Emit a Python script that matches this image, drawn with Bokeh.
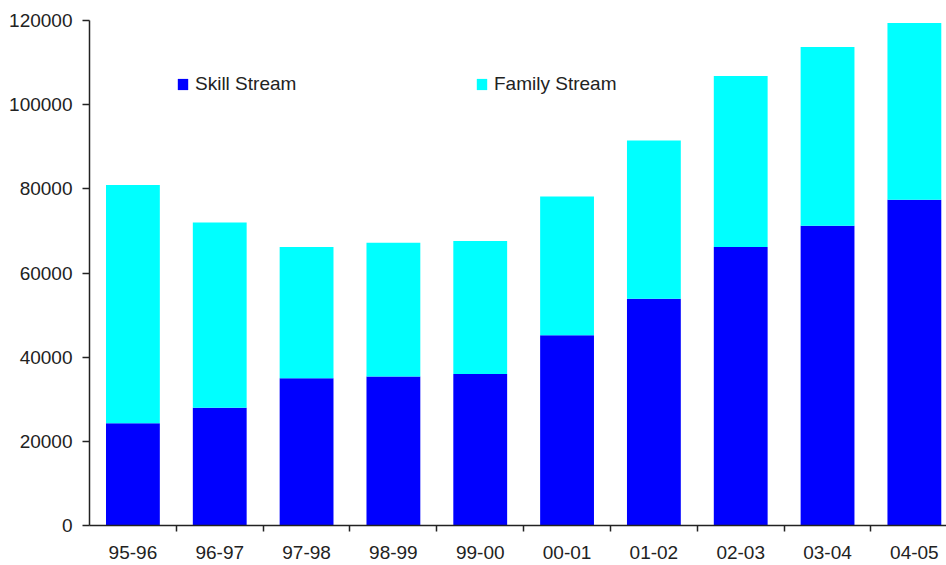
from bokeh.plotting import figure
from bokeh.models import FixedTicker, Legend, LegendItem, ColumnDataSource, Range1d
from bokeh.embed import file_html
from bokeh.resources import INLINE

years = ["95-96", "96-97", "97-98", "98-99", "99-00", "00-01", "01-02", "02-03", "03-04", "04-05"]
skill = [24300, 28000, 35000, 35400, 36000, 45200, 53900, 66200, 71200, 77400]
family = [56600, 44000, 31200, 31800, 31600, 33000, 37600, 40600, 42500, 42000]
y_ticks = [0, 20000, 40000, 60000, 80000, 100000, 120000]

xs = list(range(len(years)))
totals = [s + f for s, f in zip(skill, family)]
src = ColumnDataSource(dict(x=xs, skill=skill, total=totals))

FONT = "Liberation Sans"
TXT = "#222222"
FS = "19px"

p = figure(width=946, height=565, output_backend="svg", toolbar_location=None,
           x_range=Range1d(-0.5, 9.37), y_range=Range1d(0, 120000),
           min_border_left=89, min_border_right=0, min_border_top=20, min_border_bottom=40)
p.outline_line_color = None
p.grid.grid_line_color = None
p.background_fill_color = "white"
p.border_fill_color = "white"

r_skill = p.vbar(x="x", bottom=0, top="skill", width=0.62, source=src,
                 fill_color="#0000FF", line_color=None)
r_family = p.vbar(x="x", bottom="skill", top="total", width=0.62, source=src,
                  fill_color="#00FFFF", line_color=None)

# x axis
p.xaxis.ticker = FixedTicker(ticks=xs, minor_ticks=[i + 0.5 for i in xs[:-1]])
p.xaxis.major_label_overrides = {i: y for i, y in enumerate(years)}
p.xaxis.major_tick_line_color = None
p.xaxis.major_tick_out = 0
p.xaxis.major_tick_in = 0
p.xaxis.minor_tick_out = 6
p.xaxis.minor_tick_in = 0
p.xaxis.minor_tick_line_color = TXT
p.xaxis.minor_tick_line_width = 1.5
p.xaxis.axis_line_color = TXT
p.xaxis.axis_line_width = 1.5
p.xaxis.major_label_standoff = 14
p.xaxis.major_label_text_font = FONT
p.xaxis.major_label_text_font_size = FS
p.xaxis.major_label_text_color = TXT

# y axis
p.yaxis.ticker = FixedTicker(ticks=y_ticks)
p.yaxis.major_label_overrides = {t: str(t) for t in y_ticks}
p.yaxis.minor_tick_line_color = None
p.yaxis.major_tick_out = 7
p.yaxis.major_tick_in = 0
p.yaxis.major_tick_line_color = TXT
p.yaxis.major_tick_line_width = 1.5
p.yaxis.axis_line_color = TXT
p.yaxis.axis_line_width = 1.5
p.yaxis.major_label_standoff = 10
p.yaxis.major_label_text_font = FONT
p.yaxis.major_label_text_font_size = FS
p.yaxis.major_label_text_color = TXT

def make_legend(label, renderer, x):
    lg = Legend(items=[LegendItem(label=label, renderers=[renderer])],
                location=(x, 430), orientation="horizontal",
                border_line_color=None, background_fill_alpha=0,
                padding=0, margin=0, glyph_width=13, glyph_height=14,
                label_standoff=6, label_text_font=FONT,
                label_text_font_size=FS, label_text_color=TXT)
    p.add_layout(lg, "center")

make_legend("Skill Stream", r_skill, 176 - 89)
make_legend("Family Stream", r_family, 475 - 89)

open("out.html", "w").write(file_html(p, INLINE))
